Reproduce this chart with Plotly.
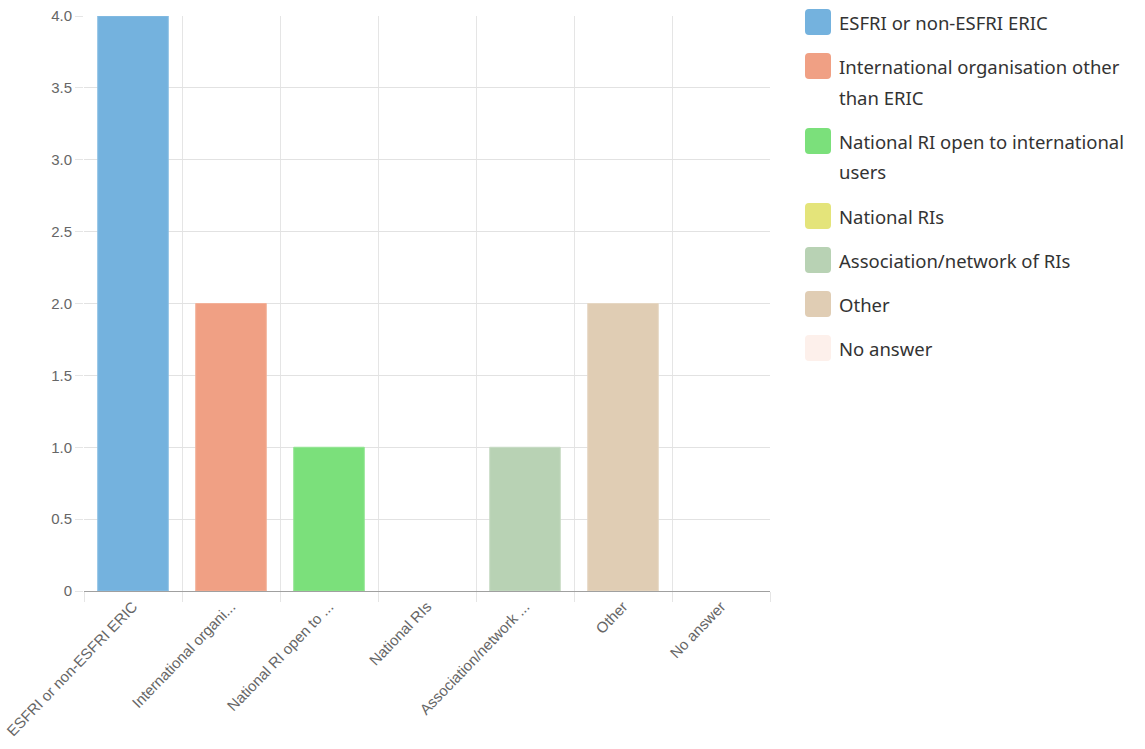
import plotly.graph_objects as go

categories = ["ESFRI or non-ESFRI ERIC", "International organisation other than ERIC",
              "National RI open to international users", "National RIs",
              "Association/network of RIs", "Other", "No answer"]
tick_labels = ["ESFRI or non-ESFRI ERIC", "International organi...", "National RI open to ...",
               "National RIs", "Association/network ...", "Other", "No answer"]
legend_lines = [["ESFRI or non-ESFRI ERIC"],
                ["International organisation other", "than ERIC"],
                ["National RI open to international", "users"],
                ["National RIs"],
                ["Association/network of RIs"],
                ["Other"],
                ["No answer"]]
values = [4, 2, 1, 0, 1, 2, 0]
colors = ["#74B2DE", "#F0A084", "#7BE07B", "#E4E47A", "#B8D2B4", "#E0CDB4", "#FDF0EB"]
edge_colors = ["#8CC0E4", "#F3B199", "#92E592", "#EAEA92", "#C7DBC4", "#E6D7C3", "#FDF3EF"]

W, H = 1145, 749
L, R, T, B = 84, 375, 16, 158
pw, ph = W - L - R, H - T - B

fig = go.Figure()
xs = list(range(len(categories)))
fig.add_trace(go.Bar(x=xs, y=values,
                     marker=dict(color=colors,
                                 line=dict(color=edge_colors, width=[1 if v > 0 else 0 for v in values])),
                     width=0.72, showlegend=False, hovertext=categories))

def px2paper(px, py):
    return (px - L) / pw, (H - B - py) / ph

shapes = []
annotations = []
y_top = 9
sw = 26
r = 4
for i, lines in enumerate(legend_lines):
    x0, x1 = 805, 805 + sw
    y0, y1 = y_top, y_top + sw
    def P(a, b):
        u, v = px2paper(a, b)
        return f"{u:.5f},{v:.5f}"
    path = (f"M {P(x0 + r, y0)} L {P(x1 - r, y0)} Q {P(x1, y0)} {P(x1, y0 + r)} "
            f"L {P(x1, y1 - r)} Q {P(x1, y1)} {P(x1 - r, y1)} L {P(x0 + r, y1)} "
            f"Q {P(x0, y1)} {P(x0, y1 - r)} L {P(x0, y0 + r)} Q {P(x0, y0)} {P(x0 + r, y0)} Z")
    shapes.append(dict(type="path", path=path, xref="paper", yref="paper",
                       fillcolor=colors[i], line=dict(width=0)))
    for j, t in enumerate(lines):
        ax, ay = px2paper(837, y_top + 13 + 31 * j)
        annotations.append(dict(text=t, x=ax, y=ay, xref="paper", yref="paper",
                                xanchor="left", yanchor="middle", showarrow=False,
                                font=dict(family="Noto Sans", size=18.5, color="#333333")))
    y_top += 44 + 31 * (len(lines) - 1)

ytick_vals = [0, 0.5, 1, 1.5, 2, 2.5, 3, 3.5, 4]
ytick_text = ["0", "0.5", "1.0", "1.5", "2.0", "2.5", "3.0", "3.5", "4.0"]

fig.update_layout(
    width=W, height=H, margin=dict(l=L, r=R, t=T, b=B, autoexpand=False),
    plot_bgcolor="white", paper_bgcolor="white",
    shapes=shapes, annotations=annotations,
    xaxis=dict(range=[-0.5, 6.5], tickvals=xs, ticktext=tick_labels, tickangle=-46,
               showgrid=False, zeroline=False, ticks="", showline=True, linecolor="#A0A0A0",
               layer="above traces", automargin=False,
               tickfont=dict(family="Liberation Sans", size=15, color="#666666"),
               minor=dict(tickvals=[i - 0.5 for i in range(8)], showgrid=True,
                          gridcolor="#E5E5E5", gridwidth=1, ticks="outside", ticklen=10,
                          tickcolor="#E5E5E5")),
    yaxis=dict(range=[0, 4], tickvals=ytick_vals, ticktext=ytick_text, showgrid=True,
               gridcolor="#E2E2E2", zeroline=False, ticks="outside", ticklen=8,
               tickcolor="#E5E5E5", showline=False, layer="above traces", automargin=False,
               tickfont=dict(family="Liberation Sans", size=15, color="#666666")),
    bargap=0.28,
)

fig.write_html("out.html")
